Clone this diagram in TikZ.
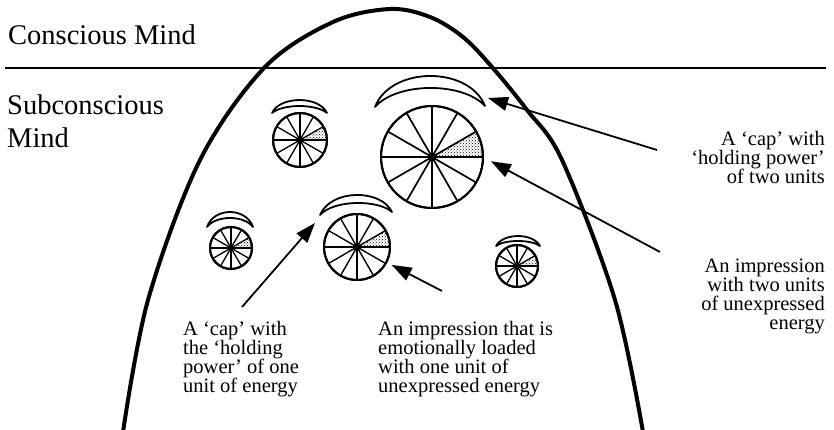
\documentclass[tikz,border=0pt]{standalone}
\usepackage{fontspec}
\setmainfont{Liberation Serif}
\usetikzlibrary{arrows.meta,patterns,calc}
\newcommand\mywheel[6]{%
  \node[rim,minimum size=#4*2pt] (#1) at (#2,#3) {};
  \fill[pattern=crosshatch dots] (#1.center) -- ++(0:#4) arc[start angle=0,end angle=-30,radius=#4] -- cycle;
  \foreach \a in {0,30,...,330} \draw[line width=#6] (#1.center) -- ++(\a:#4);
  \fill (#1.center) circle[radius=#5];
  \draw[line width=2pt] (#1.center) circle[radius=#4];
}
\begin{document}
\begin{tikzpicture}[x=1pt,y=-1pt,
  rim/.style={circle,draw,line width=2pt,inner sep=0pt,outer sep=0pt,fill=white},
  capsty/.style={draw,line width=1.8pt,fill=white,line join=round},
  arr/.style={line width=1.8pt,-{Triangle[length=20pt,width=14pt]}},
  annot/.style={inner sep=0pt,font=\fontsize{20.5}{19}\selectfont},
  head/.style={inner sep=0pt,font=\fontsize{28.5}{33}\selectfont}]
\useasboundingbox (0,0) rectangle (834,430);

% dividing line and the mind curve
\draw[line width=1.5pt] (5,68) -- (826,68);
\draw[line width=4pt] plot[smooth,tension=0.55] coordinates
  {(123,432) (148,300) (200,160) (265,67) (333,22) (390,9) (430,17)
   (463,37) (492,67) (527,110) (562,160) (615,300) (643,432)};

% headings
\node[head,anchor=base west] (cm) at (8,45) {Conscious Mind};
\node[head,anchor=base west,align=left] (sm) at (7,148) {Subconscious\\Mind};

% wheels (impressions)
\mywheel{W1}{300}{140}{27}{3.2}{1.3pt}
\mywheel{W2}{432}{157}{51}{4.2}{1.7pt}
\mywheel{W3}{357}{247}{33}{3.6}{1.4pt}
\mywheel{W4}{231}{248}{21}{3.2}{1.3pt}
\mywheel{W5}{517}{266}{21}{3.2}{1.3pt}

% caps
\draw[capsty] (272,113) .. controls (280,95.7) and (319,95.7) .. (327,113)
  .. controls (316,103.7) and (283,103.7) .. (272,113) -- cycle;
\draw[capsty] (375,107) .. controls (391,65.8) and (469,65.8) .. (485,106)
  .. controls (463,81.8) and (397,81.8) .. (375,107) -- cycle;
\draw[capsty] (320,215) .. controls (331,188.8) and (381,188.8) .. (392,212)
  .. controls (378,199.5) and (334,199.5) .. (320,215) -- cycle;
\draw[capsty] (207,227) .. controls (214,207) and (246,207) .. (253,227)
  .. controls (244,215) and (216,215) .. (207,227) -- cycle;
\draw[capsty] (496,246) .. controls (503,232.7) and (533,232.7) .. (540,246)
  .. controls (531,239.3) and (505,239.3) .. (496,246) -- cycle;

% annotations (base anchor = baseline of the last line)
\node[annot,anchor=base west,align=left] (b1) at (183,392)
  {A ‘cap’ with\\the ‘holding\\power’ of one\\unit of energy};
\node[annot,anchor=base west,align=left] (b2) at (378,392)
  {An impression that is\\emotionally loaded\\with one unit of\\unexpressed energy};
\node[annot,anchor=base east,align=right] (b3) at (825,184)
  {A ‘cap’ with\\‘holding power’\\of two units};
\node[annot,anchor=base east,align=right] (b4) at (825,329)
  {An impression\\with two units\\of unexpressed\\energy};

% arrow ends
\coordinate (cap2tip) at (488,98);
\coordinate (cap3tip) at (315,223);
\coordinate (t1) at (657,150);
\coordinate (t2) at (660,252);
\coordinate (t3) at (242,307);
\coordinate (t4) at (442,291);

\draw[arr] (t1) -- (cap2tip);
\draw[arr,shorten >=9pt] (t2) -- (W2.east);
\draw[arr] (t3) -- (cap3tip);
\draw[arr,shorten >=6pt] (t4) -- (W3);
\end{tikzpicture}
\end{document}
